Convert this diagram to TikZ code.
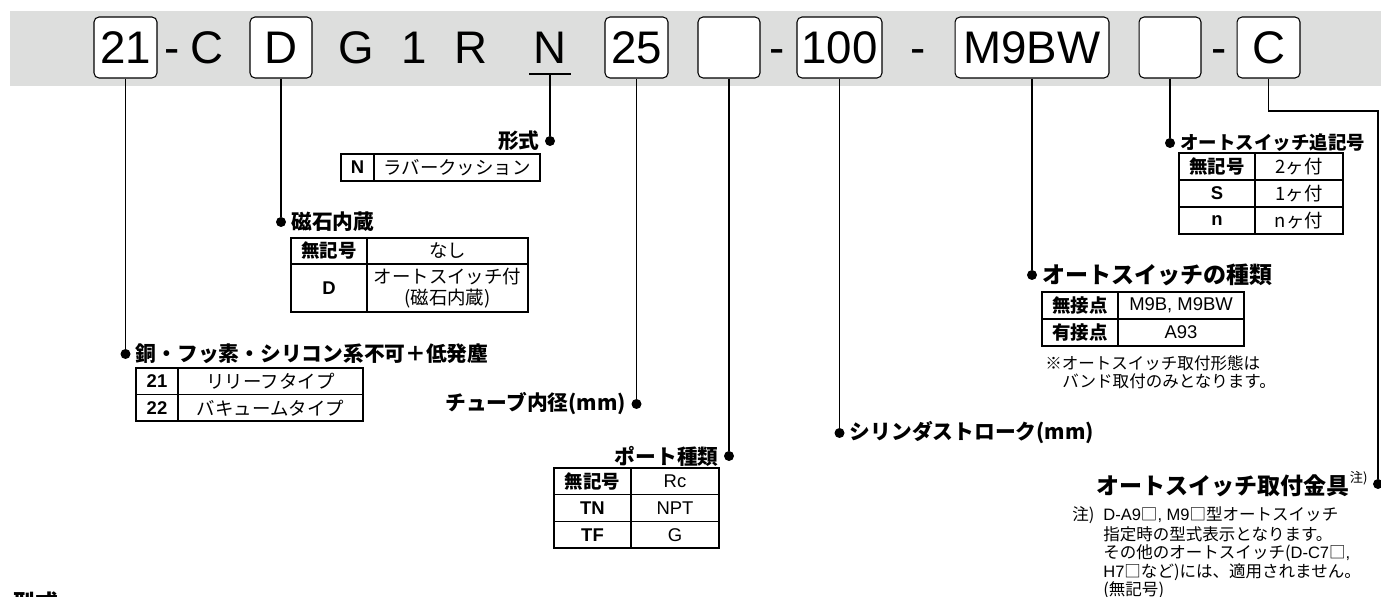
\documentclass[tikz,border=0pt]{standalone}
\usepackage{fontspec}
\setmainfont{Noto Sans CJK JP}
\newfontfamily\codefont{Liberation Sans}
\usetikzlibrary{positioning}
\definecolor{barGray}{RGB}{221,222,221}

\tikzset{
  codebox/.style={draw, rounded corners=0.1cm, fill=white, line width=0.6pt, inner sep=0,
    minimum height=1.22cm, text height=18.6pt, text depth=0pt, font=\codefont\fontsize{26}{30}\selectfont},
  codechar/.style={inner sep=0, minimum height=1.22cm, text height=18.6pt, text depth=0pt,
    font=\codefont\fontsize{26}{30}\selectfont},
  conn/.style={line width=1.1pt},
  dot/.style={circle, fill=black, inner sep=0, minimum size=0.2cm},
  head/.style={font=\bfseries\fontsize{11.8}{14}\selectfont, inner sep=1pt},
  headS/.style={font=\bfseries\fontsize{10.5}{13}\selectfont, inner sep=1pt},
  headL/.style={font=\bfseries\fontsize{13.1}{16}\selectfont, inner sep=1pt},
  cell/.style={draw, line width=0.7pt, inner sep=0, align=center, font=\fontsize{10.5}{12.3}\selectfont},
  key/.style={cell, font=\bfseries\fontsize{10.5}{12.3}\selectfont},
  keyL/.style={cell, font=\codefont\bfseries\fontsize{10.5}{12.3}\selectfont},
  valL/.style={cell, font=\codefont\fontsize{10.5}{12.3}\selectfont},
  note/.style={inner sep=0, font=\fontsize{9.4}{11}\selectfont},
}

\begin{document}
\begin{tikzpicture}[x=0.02cm, y=-0.02cm]
  \useasboundingbox (0,0) rectangle (1381,597);
  % gray band with the model code
  \fill[barGray] (10,11) rectangle (1381,86);
  \node[codebox, minimum width=1.26cm] (b21) at (125.5,47.5) {21};
  \node[codechar] (h1) at (172,47.5) {-};
  \node[codechar] (cC) at (207,47.5) {C};
  \node[codebox, minimum width=1.24cm] (bD) at (281,47.5) {D};
  \node[codechar] (cG) at (356,47.5) {G};
  \node[codechar] (c1) at (414,47.5) {1};
  \node[codechar] (cR) at (471,47.5) {R};
  \node[codechar] (cN) at (550,47.5) {N};
  \node[codebox, minimum width=1.26cm] (b25) at (636.5,47.5) {25};
  \node[codebox, minimum width=1.24cm] (bPort) at (729,47.5) {};
  \node[codechar] (h2) at (777,47.5) {-};
  \node[codebox, minimum width=1.70cm] (b100) at (839.5,47.5) {100};
  \node[codechar] (h3) at (918,47.5) {-};
  \node[codebox, minimum width=3.08cm] (bSW) at (1032,47.5) {M9BW};
  \node[codebox, minimum width=1.24cm] (bSuf) at (1170,47.5) {};
  \node[codechar] (h4) at (1219,47.5) {-};
  \node[codebox, minimum width=1.26cm] (bC) at (1268.5,47.5) {C};
  % underline of N
  \draw[conn] (529,74) -- (571,74);
  \coordinate (uN) at (550,74);

  % dots
  \node[dot] (d21) at (125.5,354) {};
  \node[dot] (dD) at (281,222) {};
  \node[dot] (dN) at (550,141) {};
  \node[dot] (d25) at (636.5,404) {};
  \node[dot] (dPort) at (729,456) {};
  \node[dot] (d100) at (839.5,433) {};
  \node[dot] (dSW) at (1032,275) {};
  \node[dot] (dSuf) at (1170,143) {};
  \node[dot] (dC) at (1378,484) {};
  \coordinate (kC) at (1378,111);

  % connectors
  \draw[conn] (b21.south) -- (d21);
  \draw[conn] (bD.south) -- (dD);
  \draw[conn] (uN) -- (dN);
  \draw[conn] (b25.south) -- (d25);
  \draw[conn] (bPort.south) -- (dPort);
  \draw[conn] (b100.south) -- (d100);
  \draw[conn] (bSW.south) -- (dSW);
  \draw[conn] (bSuf.south) -- (dSuf);
  \draw[conn] (bC.south) |- (kC) -- (dC);

  % headings
  \node[head, right=0.06cm of d21] (l21) {銅・フッ素・シリコン系不可＋低発塵};
  \node[head, right=0.06cm of dD] (lD) {磁石内蔵};
  \node[head, left=0.06cm of dN] (lN) {形式};
  \node[head, left=0.06cm of d25] (l25) {チューブ内径(mm)};
  \node[head, left=0.06cm of dPort] (lPort) {ポート種類};
  \node[head, right=0.06cm of d100] (l100) {シリンダストローク(mm)};
  \node[headL, right=0.06cm of dSW] (lSW) {オートスイッチの種類};
  \node[headS, right=0.06cm of dSuf] (lSuf) {オートスイッチ追記号};
  \node[headL, left=0.06cm of dC] (lC) {オートスイッチ取付金具\raisebox{0.55em}{\mdseries\fontsize{7.5}{8}\selectfont 注)}};

  % table: type
  \node[keyL, minimum width=0.66cm, minimum height=0.54cm] (tNk) at (357.5,167.5) {N};
  \node[cell, minimum width=3.32cm, minimum height=0.54cm] (tNv) at (457,167.5) {ラバークッション};

  % table: magnet
  \node[key, minimum width=1.52cm, minimum height=0.52cm] (tD1k) at (329,251) {無記号};
  \node[cell, minimum width=3.22cm, minimum height=0.52cm] (tD1v) at (447.5,251) {なし};
  \node[keyL, minimum width=1.52cm, minimum height=0.96cm] (tD2k) at (329,288) {D};
  \node[cell, minimum width=3.22cm, minimum height=0.96cm] (tD2v) at (447.5,288) {オートスイッチ付\\(磁石内蔵)};

  % table: series
  \node[keyL, minimum width=0.84cm, minimum height=0.53cm] (t21k) at (157,381.25) {21};
  \node[cell, minimum width=3.70cm, minimum height=0.53cm] (t21v) at (270.5,381.25) {リリーフタイプ};
  \node[keyL, minimum width=0.84cm, minimum height=0.53cm] (t22k) at (157,407.75) {22};
  \node[cell, minimum width=3.70cm, minimum height=0.53cm] (t22v) at (270.5,407.75) {バキュームタイプ};

  % table: port
  \node[key, minimum width=1.54cm, minimum height=0.533cm] (tP1k) at (592.5,481.3) {無記号};
  \node[valL, minimum width=1.76cm, minimum height=0.533cm] (tP1v) at (675,481.3) {Rc};
  \node[keyL, minimum width=1.54cm, minimum height=0.533cm] (tP2k) at (592.5,508) {TN};
  \node[valL, minimum width=1.76cm, minimum height=0.533cm] (tP2v) at (675,508) {NPT};
  \node[keyL, minimum width=1.54cm, minimum height=0.533cm] (tP3k) at (592.5,534.7) {TF};
  \node[valL, minimum width=1.76cm, minimum height=0.533cm] (tP3v) at (675,534.7) {G};

  % table: switch type
  \node[key, minimum width=1.52cm, minimum height=0.54cm] (tS1k) at (1080,305.5) {無接点};
  \node[valL, minimum width=2.52cm, minimum height=0.54cm] (tS1v) at (1181,305.5) {M9B, M9BW};
  \node[key, minimum width=1.52cm, minimum height=0.54cm] (tS2k) at (1080,332.5) {有接点};
  \node[valL, minimum width=2.52cm, minimum height=0.54cm] (tS2v) at (1181,332.5) {A93};
  \node[note, anchor=west] (nSW1) at (1045,363) {※オートスイッチ取付形態は};
  \node[note, anchor=west] (nSW2) at (1062,381) {バンド取付のみとなります。};

  % table: switch suffix
  \node[key, minimum width=1.52cm, minimum height=0.54cm] (tU1k) at (1217,166.5) {無記号};
  \node[cell, minimum width=1.76cm, minimum height=0.54cm] (tU1v) at (1299,166.5) {2ヶ付};
  \node[keyL, minimum width=1.52cm, minimum height=0.54cm] (tU2k) at (1217,193.5) {S};
  \node[cell, minimum width=1.76cm, minimum height=0.54cm] (tU2v) at (1299,193.5) {1ヶ付};
  \node[keyL, minimum width=1.52cm, minimum height=0.54cm] (tU3k) at (1217,220.5) {n};
  \node[cell, minimum width=1.76cm, minimum height=0.54cm] (tU3v) at (1299,220.5) {nヶ付};

  % note on the bracket
  \node[note, anchor=west] (nC0) at (1072,515) {注)};
  \node[note, anchor=west] (nC1) at (1103,515) {{\codefont D-A9}□{\codefont , M9}□型オートスイッチ};
  \node[note, anchor=west] (nC2) at (1103,534) {指定時の型式表示となります。};
  \node[note, anchor=west] (nC3) at (1103,553) {その他のオートスイッチ({\codefont D-C7}□{\codefont ,}};
  \node[note, anchor=west] (nC4) at (1103,572) {{\codefont H7}□など)には、適用されません。};
  \node[note, anchor=west] (nC5) at (1103,590) {(無記号)};

  % cut-off title at the bottom
  \node[headL, anchor=north west, inner sep=0] (title) at (12,591) {型式};
\end{tikzpicture}
\end{document}
